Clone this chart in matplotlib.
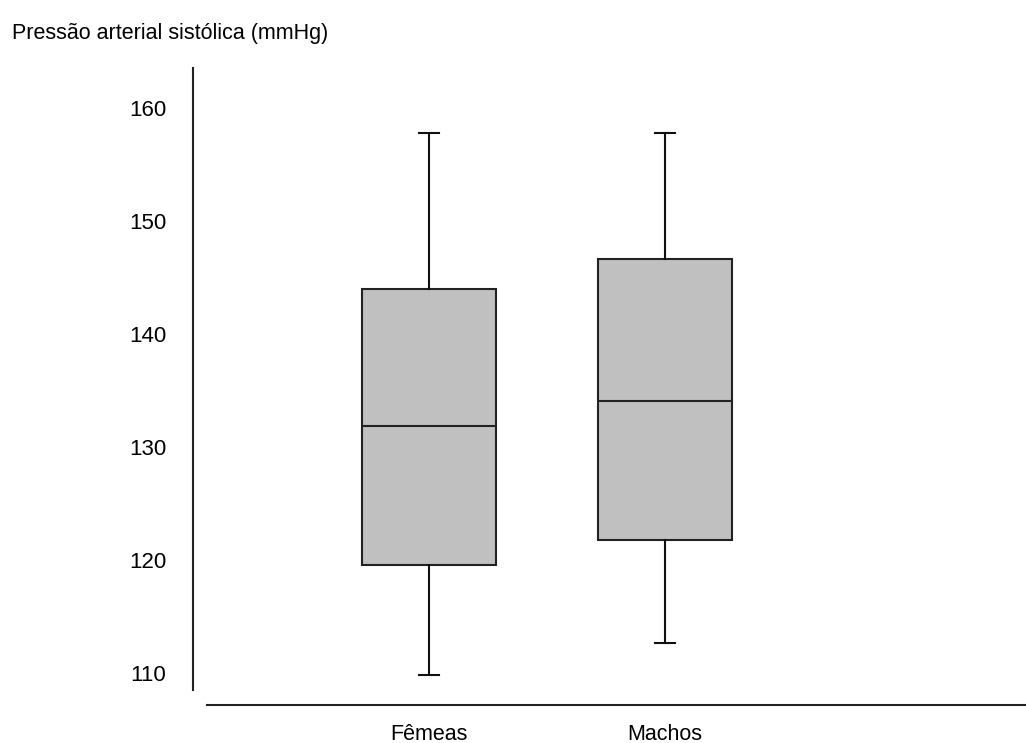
import matplotlib.pyplot as plt

# ------------------- Data -------------------
groups = ['Fêmeas', 'Machos']
whislo = [109.8, 112.7]
q1 = [119.6, 121.8]
med = [131.9, 134.1]
q3 = [144.0, 146.6]
whishi = [157.8, 157.8]
yticks = [110, 120, 130, 140, 150, 160]

stats = [dict(label=g, whislo=lo, q1=a, med=m, q3=b, whishi=hi, fliers=[])
         for g, lo, a, m, b, hi in zip(groups, whislo, q1, med, q3, whishi)]

# ------------------- Plot -------------------
W, H = 1026, 743
fig = plt.figure(figsize=(W / 100, H / 100), dpi=100)
ax = fig.add_axes([207 / W, 1 - 705 / H, 1 - 207 / W, (705 - 68) / H])

lw = 1.5
ax.bxp(stats, positions=[1, 2], widths=0.568, capwidths=0.085, patch_artist=True,
       boxprops=dict(facecolor='#c0c0c0', edgecolor='#222222', linewidth=lw),
       medianprops=dict(color='#222222', linewidth=lw),
       whiskerprops=dict(color='#111111', linewidth=lw),
       capprops=dict(color='#111111', linewidth=lw))

ax.set_xlim(0.059, 3.53)
ax.set_ylim(107.17, 163.54)
ax.set_yticks(yticks)
ax.set_xticks([1, 2])
ax.set_xticklabels(groups)

for s in ['top', 'right']:
    ax.spines[s].set_visible(False)
ax.spines['left'].set_position(('outward', 10))
ax.spines['left'].set_bounds(108.5, 163.54)
for s in ['left', 'bottom']:
    ax.spines[s].set_linewidth(1.5)
    ax.spines[s].set_color('#222222')

ax.tick_params(axis='y', length=0, pad=19.5, labelsize=16)
ax.tick_params(axis='x', length=0, pad=13.5, labelsize=15.5)

fig.text(12 / W, 1 - 33 / H, 'Pressão arterial sistólica (mmHg)', fontsize=15.5,
         ha='left', va='center', family='Liberation Sans')
for lab in ax.get_xticklabels() + ax.get_yticklabels():
    lab.set_family('Liberation Sans')

fig.savefig('out.png', dpi=100)
